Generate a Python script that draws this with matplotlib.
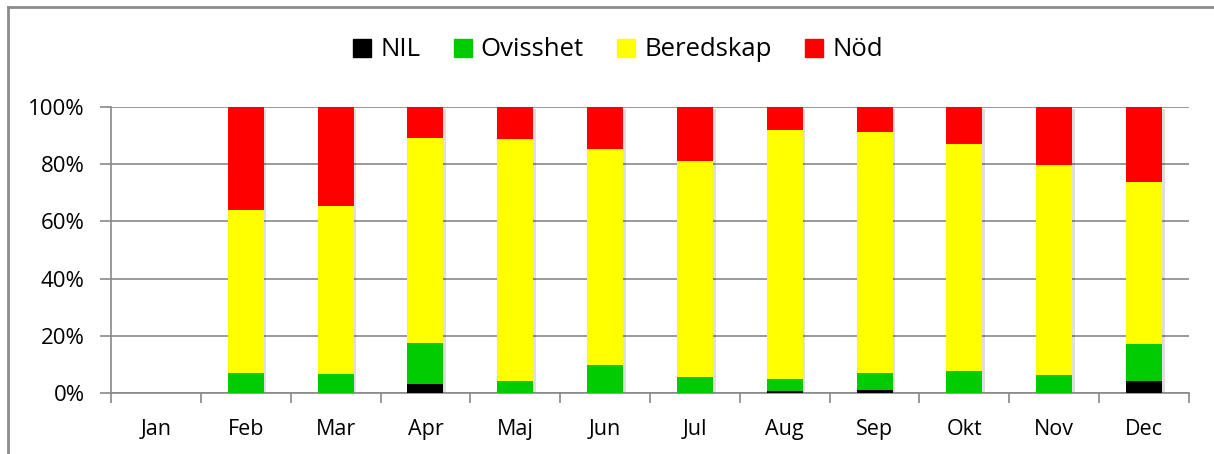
import matplotlib
matplotlib.use("Agg")
import matplotlib.pyplot as plt
import matplotlib.patheffects as pe
from matplotlib.lines import Line2D
import numpy as np

plt.rcParams['font.family'] = ['Open Sans', 'DejaVu Sans']

months = ["Jan", "Feb", "Mar", "Apr", "Maj", "Jun", "Jul", "Aug", "Sep", "Okt", "Nov", "Dec"]

# Share of each alert level per month (%)
nil       = [0, 0.0, 0.0, 3.3, 0.0, 0.0, 0.0, 0.6, 0.9, 0.0, 0.0, 4.1]
ovisshet  = [0, 6.9, 6.5, 14.2, 4.1, 9.7, 5.5, 4.3, 6.0, 7.7, 6.2, 12.9]
beredskap = [0, 57.2, 58.8, 71.7, 84.6, 75.6, 75.7, 86.9, 84.4, 79.2, 73.6, 56.8]
nod       = [0, 35.9, 34.7, 10.8, 11.3, 14.7, 18.8, 8.2, 8.7, 13.1, 20.2, 26.2]

series = [("NIL", nil, "#000000"),
          ("Ovisshet", ovisshet, "#00CC00"),
          ("Beredskap", beredskap, "#FFFF00"),
          ("Nöd", nod, "#FF0000")]

W, H = 1214, 454
fig = plt.figure(figsize=(W / 100, H / 100), dpi=100)
ax = fig.add_axes([111 / W, 1 - 393 / H, (1189 - 111) / W, (393 - 107) / H])

x = np.arange(len(months))
bar_w = 0.40

# Soft drop shadow behind each whole stack
totals = np.sum([np.array(v, dtype=float) for _, v, _ in series], axis=0)
shadow = [pe.SimplePatchShadow(offset=(2, -1.5), shadow_rgbFace="#000000", alpha=0.13)]
base = ax.bar(x, totals, width=bar_w, color="none", linewidth=0, zorder=2.5)
for b in base:
    if b.get_height() > 0:
        b.set_facecolor("white")
        b.set_path_effects(shadow + [pe.Normal()])

bottom = np.zeros(len(months))
for name, vals, col in series:
    v = np.array(vals, dtype=float)
    ax.bar(x, v, bottom=bottom, width=bar_w, color=col, label=name, zorder=3, linewidth=0)
    bottom += v

ax.set_xlim(-0.5, len(months) - 0.5)
ax.set_ylim(0, 100)
ax.set_yticks(np.arange(0, 101, 20))
ax.set_yticklabels([f"{t}%" for t in range(0, 101, 20)])
ax.set_xticks(x)
ax.set_xticklabels(months)
ax.set_xticks(np.arange(-0.5, len(months), 1), minor=True)

grid_col = "#898989"
ax.yaxis.grid(True, color=grid_col, linewidth=1.2, zorder=0)
ax.set_axisbelow(True)
for s in ["top", "right"]:
    ax.spines[s].set_visible(False)
for s in ["left", "bottom"]:
    ax.spines[s].set_color(grid_col)
    ax.spines[s].set_linewidth(1.2)

ax.tick_params(axis="x", which="major", length=0, pad=19, labelsize=15.5)
ax.tick_params(axis="x", which="minor", length=7, width=1.2, color=grid_col, direction="out")
ax.tick_params(axis="y", length=8, width=1.2, color=grid_col, direction="out", pad=11, labelsize=16)

handles = [plt.Rectangle((0, 0), 1, 1, color=c) for _, _, c in series]
fig.legend(handles, [n for n, _, _ in series], loc="center", bbox_to_anchor=(618 / W, 1 - 50 / H),
           ncol=4, frameon=False, fontsize=18.5, handlelength=0.7, handleheight=0.7,
           handletextpad=0.35, columnspacing=1.3)

# Chart frame
fig.add_artist(Line2D([8 / W, 8 / W], [0, 1 - 7 / H], color="#8c8c8c", linewidth=2, transform=fig.transFigure))
fig.add_artist(Line2D([8 / W, 1], [1 - 7 / H, 1 - 7 / H], color="#8c8c8c", linewidth=2, transform=fig.transFigure))

fig.savefig("out.png", dpi=100)
